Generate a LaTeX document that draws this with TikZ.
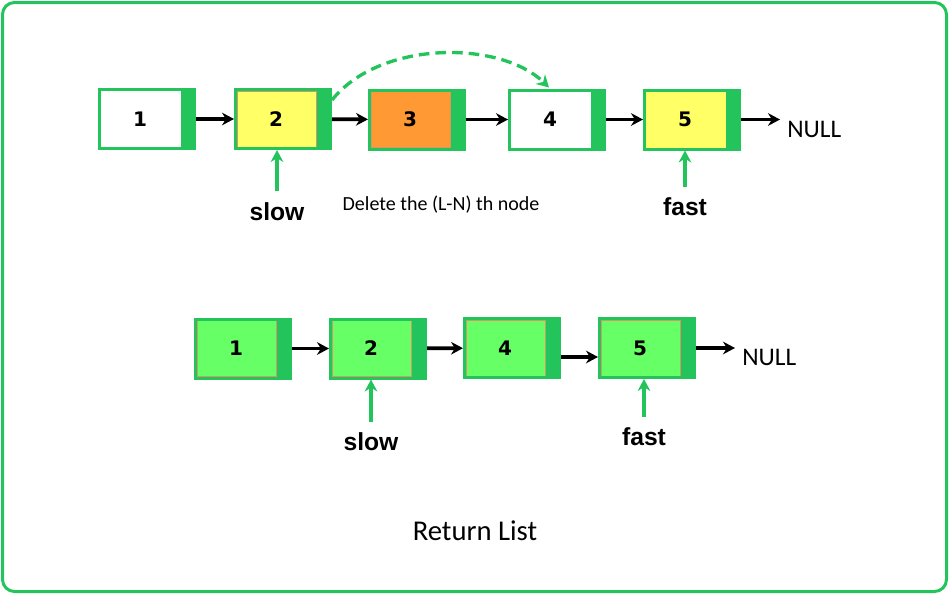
\documentclass[tikz,border=0pt]{standalone}
\usepackage{fontspec}
\usetikzlibrary{arrows.meta,calc}
\newfontfamily\numfont{DejaVu Sans}
\newfontfamily\labfont{Liberation Sans}
\newfontfamily\calfont{Carlito}
\definecolor{gborder}{RGB}{36,196,92}
\definecolor{yfill}{RGB}{255,255,102}
\definecolor{ofill}{RGB}{255,153,51}
\definecolor{lgfill}{RGB}{102,255,102}
\definecolor{inline}{RGB}{215,150,100}
\tikzset{
  lnode/.style={draw=gborder, line width=2.25pt, inner sep=0pt,
    minimum width=71.25pt, minimum height=44.25pt,
    font=\numfont\bfseries\fontsize{15}{17}\selectfont,
    path picture={
      \fill[gborder] ([xshift=-10.5pt]path picture bounding box.north east) rectangle (path picture bounding box.south east);
    }},
  inl/.style={path picture={
      \fill[gborder] ([xshift=-10.5pt]path picture bounding box.north east) rectangle (path picture bounding box.south east);
      \draw[inline, line width=0.35pt] ([xshift=1.2pt,yshift=-1.2pt]path picture bounding box.north west) rectangle ([xshift=-10.5pt,yshift=1.2pt]path picture bounding box.south east);
    }},
  blk/.style={-{Stealth[length=9pt,width=9.5pt]}, line width=2.8pt, black},
  garr/.style={-{Stealth[length=9pt,width=9.5pt]}, line width=2.8pt, gborder},
  nulltxt/.style={font=\calfont\fontsize{19}{22}\selectfont, anchor=west, inner sep=0pt},
  ptr/.style={font=\labfont\bfseries\fontsize{18.5}{22}\selectfont, inner sep=0pt},
}
\newcommand{\tx}[1]{\hspace*{-10.5pt}#1}
\begin{document}
\begin{tikzpicture}[x=0.75pt,y=-0.75pt]
\useasboundingbox (0,0) rectangle (949,594);
\draw[gborder, line width=2.25pt, rounded corners=9pt] (2.5,2.5) rectangle (946.5,591.5);

% top row
\node[lnode, fill=white] (a1) at (147,119) {\tx{1}};
\node[lnode, fill=yfill, inl] (a2) at (283,119) {\tx{2}};
\node[lnode, fill=ofill, inl] (a3) at (417,119.5) {\tx{3}};
\node[lnode, fill=white] (a4) at (557,119.5) {\tx{4}};
\node[lnode, fill=yfill] (a5) at (692,119.5) {\tx{5}};
\node[nulltxt] (n1) at (787,129) {NULL};

\draw[blk] (a1) -- (a2);
\draw[blk] (a2) -- (a3);
\draw[blk] (a3) -- (a4);
\draw[blk] (a4) -- (a5);
\draw[blk] (a5.east) -- ($(a5.east -| n1.west)+(-7,0)$);

\draw[gborder, line width=2.5pt, dash pattern=on 8pt off 4.5pt, -{Stealth[length=9pt,width=10pt]}]
  ($(a2.north east)+(0,12)$) .. controls (380,40) and (500,40) .. ($(a4.north)+(-8,-1)$);

\coordinate (s1t) at (277,191);
\node[ptr] (s1) at (277,212) {slow};
\draw[garr] (s1t) -- (s1t |- a2.south);
\coordinate (f1t) at (685,187);
\node[ptr] (f1) at (685,207) {fast};
\draw[garr] (f1t) -- (f1t |- a5.south);

\node[font=\calfont\fontsize{15}{18}\selectfont, inner sep=0pt] (del) at (441,205) {Delete the (L-N) th node};

% bottom row
\node[lnode, fill=lgfill, inl] (b1) at (243,348.5) {\tx{1}};
\node[lnode, fill=lgfill, inl] (b2) at (378,348.5) {\tx{2}};
\node[lnode, fill=lgfill, inl] (b4) at (512,348) {\tx{4}};
\node[lnode, fill=lgfill, inl] (b5) at (647,348) {\tx{5}};
\node[nulltxt] (n2) at (742,357) {NULL};

\draw[blk] (b1) -- (b2);
\draw[blk] (b2) -- (b4);
\draw[blk] ($(b4.east)+(0,9)$) -- ($(b5.west)+(0,9)$);
\draw[blk] (b5.east) -- ($(b5.east -| n2.west)+(-7,0)$);

\coordinate (s2t) at (371,422);
\node[ptr] (s2) at (371,442) {slow};
\draw[garr] (s2t) -- (s2t |- b2.south);
\coordinate (f2t) at (644,417);
\node[ptr] (f2) at (644,437) {fast};
\draw[garr] (f2t) -- (f2t |- b5.south);

\node[font=\calfont\fontsize{21.5}{25}\selectfont, inner sep=0pt] (ret) at (475,531) {Return List};
\end{tikzpicture}
\end{document}
